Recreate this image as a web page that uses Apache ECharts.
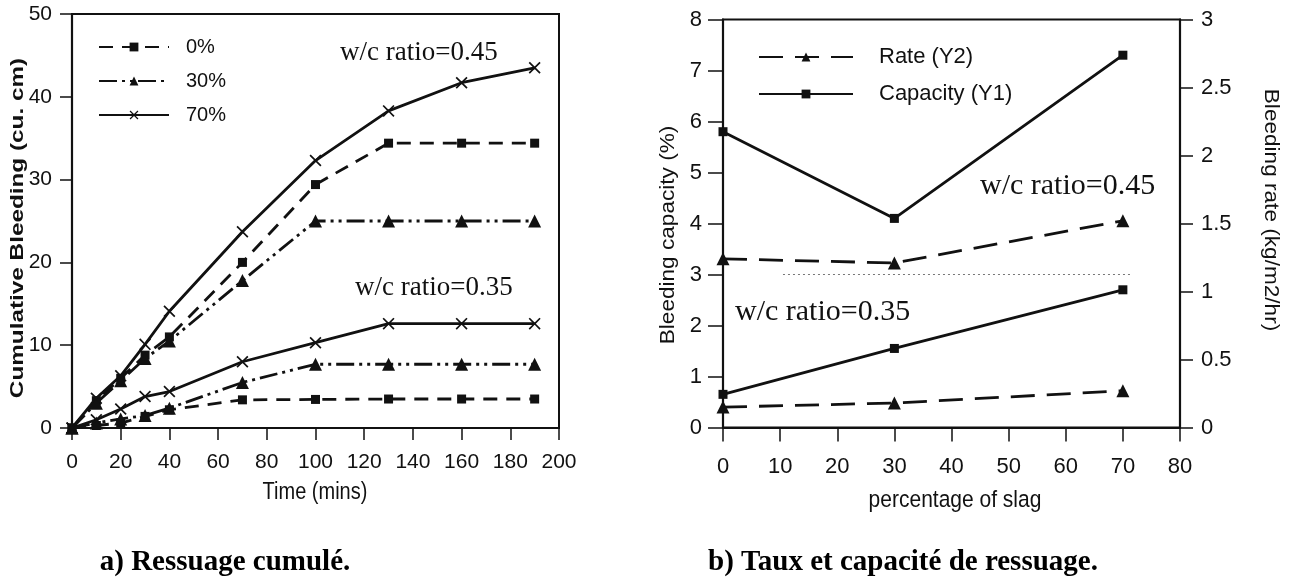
<!DOCTYPE html>
<html>
<head>
<meta charset="utf-8">
<title>Ressuage</title>
<script src="https://cdn.jsdelivr.net/npm/echarts@6/dist/echarts.min.js"></script>
<style>
  html, body { margin: 0; padding: 0; background: #fff; }
  #chart { width: 1291px; height: 587px; }
</style>
</head>
<body>
<div id="chart"></div>
<script>
// ---- a) cumulative bleeding vs time ----
const timeMins = [0, 10, 20, 30, 40, 70, 100, 130, 160, 190];
const wc045_slag0  = [0, 3.3, 6.0, 8.8, 11.0, 20.0, 29.4, 34.4, 34.4, 34.4];
const wc045_slag30 = [0, 3.0, 5.7, 8.4, 10.5, 17.8, 25.0, 25.0, 25.0, 25.0];
const wc045_slag70 = [0, 3.6, 6.3, 10.1, 14.1, 23.7, 32.3, 38.3, 41.7, 43.5];
const wc035_slag0  = [0, 0.3, 0.6, 1.4, 2.2, 3.4, 3.45, 3.5, 3.5, 3.5];
const wc035_slag30 = [0, 0.6, 1.1, 1.5, 2.4, 5.5, 7.7, 7.7, 7.7, 7.7];
const wc035_slag70 = [0, 1.0, 2.3, 3.8, 4.4, 8.0, 10.3, 12.6, 12.6, 12.6];
const slagNames = ['0%', '30%', '70%'];

// ---- b) bleeding rate and capacity vs slag content ----
const slagPct = [0, 30, 70];
const capacity045 = [5.8, 4.1, 7.3];   // Y1, %
const capacity035 = [0.65, 1.55, 2.7]; // Y1, %
const rate045 = [1.24, 1.21, 1.52];    // Y2, kg/m2/hr
const rate035 = [0.15, 0.18, 0.27];    // Y2, kg/m2/hr
const dividerX = [10.5, 71.5];
const dividerY = [3.0, 3.0];

const pair = (xs, ys) => xs.map((x, i) => [x, ys[i]]);

const SANS = 'Arial, "Liberation Sans", sans-serif';
const SERIF = '"Times New Roman", "Liberation Serif", serif';
const INK = '#111';
const crossPath = 'path://M0,1 L1,0 L5,4 L9,0 L10,1 L6,5 L10,9 L9,10 L5,6 L1,10 L0,9 L4,5 Z';

const styles = {
  '0%':  { symbol: 'rect', symbolSize: 9, dash: [14, 9] },
  '30%': { symbol: 'triangle', symbolSize: 13, dash: [18, 5, 3, 5, 3, 5] },
  '70%': { symbol: crossPath, symbolSize: 12, dash: 'solid' }
};

function timeSeries(name, values) {
  const s = styles[name];
  return {
    type: 'line', name, xAxisIndex: 0, yAxisIndex: 0,
    data: pair(timeMins, values),
    symbol: s.symbol, symbolSize: s.symbolSize,
    itemStyle: { color: INK },
    lineStyle: { color: INK, width: 2.8, type: s.dash },
    silent: true, animation: false
  };
}

function slagSeries(name, ys, yAxisIndex, symbol, size, dash) {
  return {
    type: 'line', name, xAxisIndex: 1, yAxisIndex,
    data: pair(slagPct, ys),
    symbol, symbolSize: size,
    itemStyle: { color: INK },
    lineStyle: { color: INK, width: 2.8, type: dash },
    silent: true, animation: false
  };
}

const axisLine = { show: true, lineStyle: { color: INK, width: 2.2 } };
const tick = (len) => ({ show: true, inside: false, length: len, lineStyle: { color: INK, width: 1.5 } });
const label = (size, margin) => ({ color: INK, fontSize: size, fontFamily: SANS, margin });

const chart = echarts.init(document.getElementById('chart'), null, { renderer: 'canvas' });

chart.setOption({
  backgroundColor: '#fff',
  animation: false,
  grid: [
    { left: 72, top: 14, width: 487, height: 414, show: true, borderColor: INK, borderWidth: 2, backgroundColor: 'transparent' },
    { left: 723, top: 19.5, width: 457, height: 408, show: true, borderColor: INK, borderWidth: 2, backgroundColor: 'transparent' }
  ],
  xAxis: [
    { gridIndex: 0, type: 'value', min: 0, max: 200, interval: 20,
      axisLine, axisTick: tick(12), axisLabel: label(21, 24), splitLine: { show: false } },
    { gridIndex: 1, type: 'value', min: 0, max: 80, interval: 10,
      axisLine, axisTick: tick(14), axisLabel: label(22, 28), splitLine: { show: false } }
  ],
  yAxis: [
    { gridIndex: 0, type: 'value', min: 0, max: 50, interval: 10,
      axisLine, axisTick: tick(12), axisLabel: label(21, 20), splitLine: { show: false } },
    { gridIndex: 1, type: 'value', min: 0, max: 8, interval: 1, position: 'left',
      axisLine, axisTick: tick(15), axisLabel: label(22, 21), splitLine: { show: false } },
    { gridIndex: 1, type: 'value', min: 0, max: 3, interval: 0.5, position: 'right',
      axisLine, axisTick: tick(13), axisLabel: label(22, 21), splitLine: { show: false } }
  ],
  legend: [
    { data: slagNames, orient: 'vertical', left: 93, top: 32,
      itemWidth: 70, itemHeight: 11, itemGap: 14,
      textStyle: { color: INK, fontSize: 20, fontFamily: SANS, lineHeight: 20, padding: [0, 0, 0, 12] },
      selectedMode: false },
    { data: ['Rate (Y2)', 'Capacity (Y1)'], orient: 'vertical', left: 753, top: 41,
      itemWidth: 94, itemHeight: 11, itemGap: 15,
      textStyle: { color: INK, fontSize: 22, fontFamily: SANS, lineHeight: 22, padding: [0, 0, 0, 21] },
      selectedMode: false }
  ],
  series: [
    timeSeries('0%', wc045_slag0),
    timeSeries('30%', wc045_slag30),
    timeSeries('70%', wc045_slag70),
    timeSeries('0%', wc035_slag0),
    timeSeries('30%', wc035_slag30),
    timeSeries('70%', wc035_slag70),
    slagSeries('Rate (Y2)', rate045, 2, 'triangle', 13, [24, 12]),
    slagSeries('Capacity (Y1)', capacity045, 1, 'rect', 9, 'solid'),
    slagSeries('Rate (Y2)', rate035, 2, 'triangle', 13, [24, 12]),
    slagSeries('Capacity (Y1)', capacity035, 1, 'rect', 9, 'solid'),
    { type: 'line', name: 'divider', xAxisIndex: 1, yAxisIndex: 1,
      data: pair(dividerX, dividerY), symbol: 'none',
      lineStyle: { color: '#777', width: 1, type: [2, 3] }, silent: true }
  ],
  graphic: [
    // series annotations
    { type: 'text', x: 340, y: 53, style: { text: 'w/c ratio=0.45', fontSize: 27, fontFamily: SERIF, fill: INK, verticalAlign: 'middle' } },
    { type: 'text', x: 355, y: 288, style: { text: 'w/c ratio=0.35', fontSize: 27, fontFamily: SERIF, fill: INK, verticalAlign: 'middle' } },
    { type: 'text', x: 980, y: 186, style: { text: 'w/c ratio=0.45', fontSize: 30, fontFamily: SERIF, fill: INK, verticalAlign: 'middle' } },
    { type: 'text', x: 735, y: 312, style: { text: 'w/c ratio=0.35', fontSize: 30, fontFamily: SERIF, fill: INK, verticalAlign: 'middle' } },
    // axis titles
    { type: 'text', x: 18, y: 228, rotation: Math.PI / 2, scaleX: 1.35,
      style: { text: 'Cumulative Bleeding (cu. cm)', fontSize: 18, fontWeight: 'bold', fontFamily: SANS, fill: INK, align: 'center', verticalAlign: 'middle' } },
    { type: 'text', x: 315, y: 493, scaleY: 1.15,
      style: { text: 'Time (mins)', fontSize: 20, fontFamily: SANS, fill: INK, align: 'center', verticalAlign: 'middle' } },
    { type: 'text', x: 668, y: 235, rotation: Math.PI / 2, scaleX: 1.13,
      style: { text: 'Bleeding capacity (%)', fontSize: 20, fontFamily: SANS, fill: INK, align: 'center', verticalAlign: 'middle' } },
    { type: 'text', x: 1271, y: 210, rotation: -Math.PI / 2, scaleX: 1.13,
      style: { text: 'Bleeding rate (kg/m2/hr)', fontSize: 20, fontFamily: SANS, fill: INK, align: 'center', verticalAlign: 'middle' } },
    { type: 'text', x: 955, y: 500, scaleY: 1.15,
      style: { text: 'percentage of slag', fontSize: 21, fontFamily: SANS, fill: INK, align: 'center', verticalAlign: 'middle' } },
    // captions
    { type: 'text', x: 225, y: 563,
      style: { text: 'a) Ressuage cumulé.', fontSize: 29, fontWeight: 'bold', fontFamily: SERIF, fill: '#000', align: 'center', verticalAlign: 'middle' } },
    { type: 'text', x: 903, y: 563,
      style: { text: 'b) Taux et capacité de ressuage.', fontSize: 29, fontWeight: 'bold', fontFamily: SERIF, fill: '#000', align: 'center', verticalAlign: 'middle' } }
  ]
});
</script>
</body>
</html>
